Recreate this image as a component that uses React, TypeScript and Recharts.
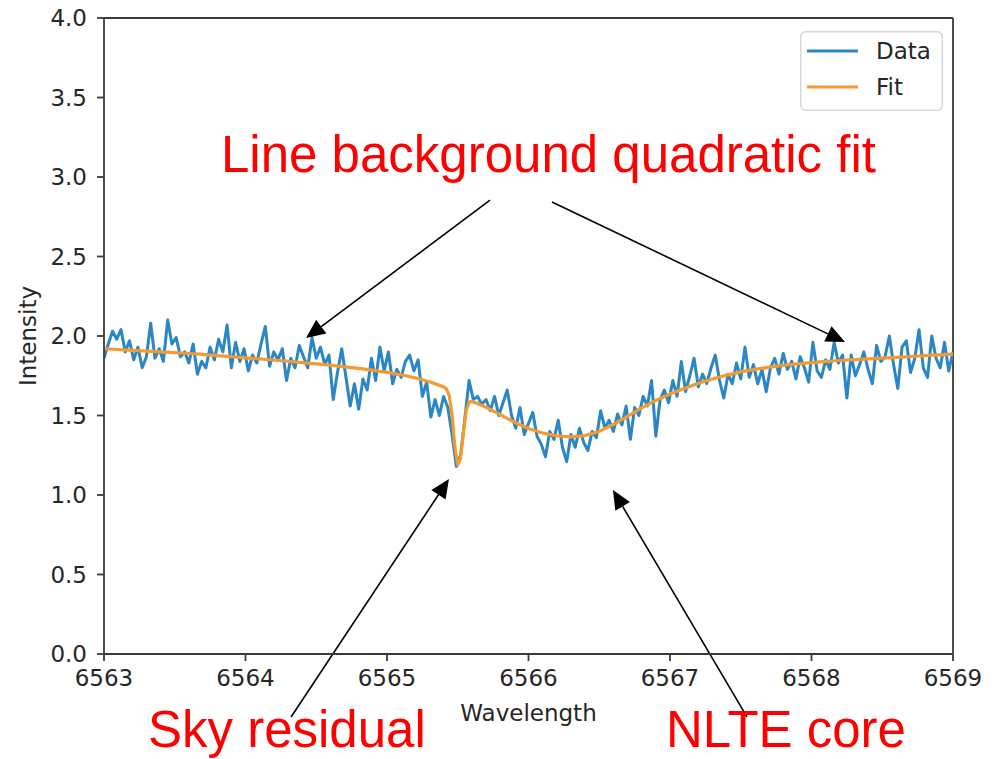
import React from 'react';
import { LineChart, Line, XAxis, YAxis, ReferenceLine, Legend } from 'recharts';

// ---- data ----
const DATA_START = 6563;
const DATA_STEP = 0.03;
const dataIntensity = [
  1.86, 1.95, 2.03, 1.98, 2.04, 1.90, 1.97, 1.85, 1.93, 1.80, 1.87, 2.08, 1.86, 1.92, 1.84, 2.10, 1.95, 1.99, 1.87, 1.90, 1.83,
  1.95, 1.76, 1.84, 1.80, 1.93, 1.85, 1.98, 1.90, 2.07, 1.80, 1.96, 1.84, 1.92, 1.78, 1.88, 1.83, 1.95, 2.06, 1.81, 1.90, 1.85, 1.92, 1.72, 1.86, 1.80, 1.94,
  1.87, 1.80, 1.99, 1.86, 1.93, 1.82, 1.88, 1.60, 1.77, 1.92, 1.74, 1.56, 1.70, 1.54, 1.73, 1.66, 1.86, 1.72, 1.93, 1.78, 1.90, 1.70, 1.79, 1.74, 1.84, 1.88, 1.78, 1.85, 1.62, 1.71, 1.49, 1.60, 1.50,
  1.62, 1.55, 1.38, 1.18, 1.25, 1.48, 1.72, 1.60, 1.62, 1.57, 1.60, 1.53, 1.62, 1.50, 1.58, 1.66, 1.50, 1.42, 1.55, 1.38, 1.45,
  1.52, 1.37, 1.32, 1.24, 1.40, 1.35, 1.47, 1.30, 1.21, 1.38, 1.30, 1.42, 1.33, 1.28, 1.40, 1.36, 1.53, 1.42, 1.47, 1.40,
  1.51, 1.44, 1.56, 1.35, 1.55, 1.50, 1.62, 1.56, 1.72, 1.37, 1.60, 1.66, 1.58, 1.72, 1.62, 1.84, 1.65, 1.75, 1.86, 1.68,
  1.76, 1.70, 1.80, 1.88, 1.72, 1.61, 1.76, 1.70, 1.83, 1.73,
  1.93, 1.74, 1.82, 1.70, 1.79, 1.65, 1.80, 1.86, 1.76, 1.89, 1.79, 1.84, 1.73, 1.87, 1.80, 1.71, 1.96, 1.78, 1.74, 1.85,
  1.79, 1.96, 1.83, 1.88, 1.61, 1.88, 1.75, 1.82, 1.90, 1.79, 1.70, 1.94, 1.84, 1.87, 2.00, 1.82, 1.67, 1.93, 1.97, 1.77,
  1.86, 2.04, 1.80, 1.74, 2.00, 1.86, 1.80, 1.96, 1.78, 1.90,
];

const fitWavelength = [
  6563.0, 6563.1, 6563.2, 6563.3, 6563.4, 6563.5, 6563.6, 6563.7, 6563.8, 6563.9,
  6564.0, 6564.1, 6564.2, 6564.3, 6564.4, 6564.5, 6564.6, 6564.7, 6564.8, 6564.9,
  6565.0, 6565.1, 6565.2, 6565.3, 6565.4, 6565.42, 6565.44, 6565.46, 6565.48, 6565.5,
  6565.52, 6565.54, 6565.56, 6565.58, 6565.6, 6565.7, 6565.8, 6565.9,
  6566.0, 6566.1, 6566.2, 6566.3, 6566.4, 6566.5, 6566.6, 6566.7, 6566.8, 6566.9,
  6567.0, 6567.1, 6567.2, 6567.3, 6567.4, 6567.5, 6567.6, 6567.7, 6567.8, 6567.9,
  6568.0, 6568.1, 6568.2, 6568.3, 6568.4, 6568.5, 6568.6, 6568.7, 6568.8, 6568.9, 6569.0,
];
const fitIntensity = [
  1.920, 1.915, 1.910, 1.905, 1.900, 1.895, 1.890, 1.884, 1.877, 1.870,
  1.863, 1.856, 1.849, 1.841, 1.833, 1.825, 1.816, 1.806, 1.796, 1.784,
  1.771, 1.756, 1.737, 1.712, 1.680, 1.668, 1.625, 1.500, 1.300, 1.190,
  1.230, 1.390, 1.530, 1.585, 1.590, 1.552, 1.505, 1.458,
  1.418, 1.390, 1.372, 1.366, 1.374, 1.400, 1.443, 1.495, 1.548, 1.595,
  1.635, 1.670, 1.703, 1.730, 1.754, 1.774, 1.790, 1.804, 1.815, 1.825,
  1.833, 1.840, 1.846, 1.851, 1.856, 1.861, 1.866, 1.871, 1.876, 1.881, 1.886,
];

const xTicks = [6563, 6564, 6565, 6566, 6567, 6568, 6569];
const yTicks = [0, 0.5, 1, 1.5, 2, 2.5, 3, 3.5, 4];
const seriesNames = ['Data', 'Fit'];
const annotationTexts = ['Line background quadratic fit', 'Sky residual', 'NLTE core'];

// arrow tails and heads in data coordinates (wavelength, intensity)
const arrowTails = [
  { x: 6565.728, y: 2.855 },
  { x: 6566.166, y: 2.843 },
  { x: 6564.322, y: -0.396 },
  { x: 6567.544, y: -0.396 },
];
const arrowHeads = [
  { x: 6564.428, y: 1.987 },
  { x: 6568.237, y: 1.962 },
  { x: 6565.438, y: 1.101 },
  { x: 6566.597, y: 1.031 },
];

const dataSeries = dataIntensity.map((v, i) => ({
  wavelength: +(DATA_START + i * DATA_STEP).toFixed(3),
  intensity: v,
}));
const fitSeries = fitWavelength.map((w, i) => ({ wavelength: w, intensity: fitIntensity[i] }));

// ---- styles ----
const BLUE = '#2a86c4';
const ORANGE = '#f29b30';
const AXIS = '#3a3a3a';
const TEXT = '#262626';
const FONT = 'DejaVu Sans, Verdana, sans-serif';
const RED_FONT = 'Liberation Sans, Arial, sans-serif';

const ArrowShape = (props: any) => {
  const { x1, y1, x2, y2 } = props;
  const dx = x2 - x1;
  const dy = y2 - y1;
  const len = Math.sqrt(dx * dx + dy * dy) || 1;
  const ux = dx / len;
  const uy = dy / len;
  const headLen = 19;
  const headHalf = 8.5;
  const bx = x2 - ux * headLen;
  const by = y2 - uy * headLen;
  const px = -uy;
  const py = ux;
  return (
    <g>
      <line x1={x1} y1={y1} x2={bx} y2={by} stroke="#000" strokeWidth={1.6} />
      <polygon
        points={`${x2},${y2} ${bx + px * headHalf},${by + py * headHalf} ${bx - px * headHalf},${by - py * headHalf}`}
        fill="#000"
      />
    </g>
  );
};

const renderLegend = () => (
  <svg width={143} height={80} style={{ display: 'block' }}>
    <rect x={0.75} y={0.75} width={141.5} height={78.5} rx={5} ry={5} fill="rgba(255,255,255,0.85)" stroke="#d8d8d8" strokeWidth={1.5} />
    {seriesNames.map((name, i) => (
      <g key={name}>
        <line x1={7} x2={58} y1={20 + i * 36} y2={20 + i * 36} stroke={i === 0 ? BLUE : ORANGE} strokeWidth={3} />
        <text x={76} y={28 + i * 36} fontSize={23} fontFamily={FONT} fill={TEXT}>
          {name}
        </text>
      </g>
    ))}
  </svg>
);

export default function App() {
  return (
    <div style={{ position: 'absolute', left: 0, top: 0, width: 999, height: 759, background: '#fff', overflow: 'hidden' }}>
      <LineChart
        width={999}
        height={759}
        margin={{ top: 18, right: 46, bottom: 75, left: 44 }}
        style={{ fontFamily: FONT }}
      >
        <XAxis
          dataKey="wavelength"
          type="number"
          domain={[6563, 6569]}
          ticks={xTicks}
          allowDataOverflow
          height={30}
          tickSize={7}
          tickMargin={9}
          tick={{ fill: TEXT, fontSize: 23, fontFamily: FONT }}
          tickLine={{ stroke: AXIS, strokeWidth: 1.8 }}
          axisLine={{ stroke: AXIS, strokeWidth: 1.8 }}
          label={{
            value: 'Wavelength',
            content: (p: any) => {
              const vb = p.viewBox || { x: 104, width: 849 };
              return (
                <text x={vb.x + vb.width / 2} y={721} textAnchor="middle" fontSize={23} fontFamily={FONT} fill={TEXT}>
                  Wavelength
                </text>
              );
            },
          }}
        />
        <YAxis
          dataKey="intensity"
          type="number"
          domain={[0, 4]}
          ticks={yTicks}
          allowDataOverflow
          width={60}
          tickSize={7}
          tickMargin={10}
          tickFormatter={(v: number) => v.toFixed(1)}
          tick={{ fill: TEXT, fontSize: 23, fontFamily: FONT }}
          tickLine={{ stroke: AXIS, strokeWidth: 1.8 }}
          axisLine={{ stroke: AXIS, strokeWidth: 1.8 }}
          label={{
            value: 'Intensity',
            content: (p: any) => {
              const vb = p.viewBox || { x: 44, y: 18, height: 636 };
              const cx = vb.x - 16;
              const cy = vb.y + vb.height / 2;
              return (
                <text
                  x={cx}
                  y={cy}
                  transform={`rotate(-90 ${cx} ${cy})`}
                  textAnchor="middle"
                  dominantBaseline="central"
                  fontSize={23}
                  fontFamily={FONT}
                  fill={TEXT}
                >
                  Intensity
                </text>
              );
            },
          }}
        />
        <ReferenceLine y={4} stroke={AXIS} strokeWidth={1.8} />
        <ReferenceLine x={6569} stroke={AXIS} strokeWidth={1.8} />
        <Line
          data={dataSeries}
          dataKey="intensity"
          name={seriesNames[0]}
          type="linear"
          stroke={BLUE}
          strokeWidth={3}
          strokeLinejoin="round"
          dot={false}
          activeDot={false}
          isAnimationActive={false}
        />
        <Line
          data={fitSeries}
          dataKey="intensity"
          name={seriesNames[1]}
          type="linear"
          stroke={ORANGE}
          strokeWidth={3.2}
          strokeLinejoin="round"
          dot={false}
          activeDot={false}
          isAnimationActive={false}
        />
        {arrowTails.map((t, i) => (
          <ReferenceLine
            key={`arrow-${i}`}
            segment={[t, arrowHeads[i]]}
            ifOverflow="visible"
            shape={ArrowShape}
          />
        ))}
        <Legend
          layout="vertical"
          align="center"
          verticalAlign="middle"
          content={renderLegend}
          wrapperStyle={{ left: 800, top: 31, width: 143, height: 80 }}
        />
      </LineChart>
      <svg
        width={999}
        height={759}
        style={{ position: 'absolute', left: 0, top: 0, pointerEvents: 'none' }}
      >
        <text x={221} y={172} fontSize={51} fill="#ff0000" fontFamily={RED_FONT}>
          {annotationTexts[0]}
        </text>
        <text x={148} y={747} fontSize={51} fill="#ff0000" fontFamily={RED_FONT}>
          {annotationTexts[1]}
        </text>
        <text x={666} y={747} fontSize={51} fill="#ff0000" fontFamily={RED_FONT}>
          {annotationTexts[2]}
        </text>
      </svg>
    </div>
  );
}
